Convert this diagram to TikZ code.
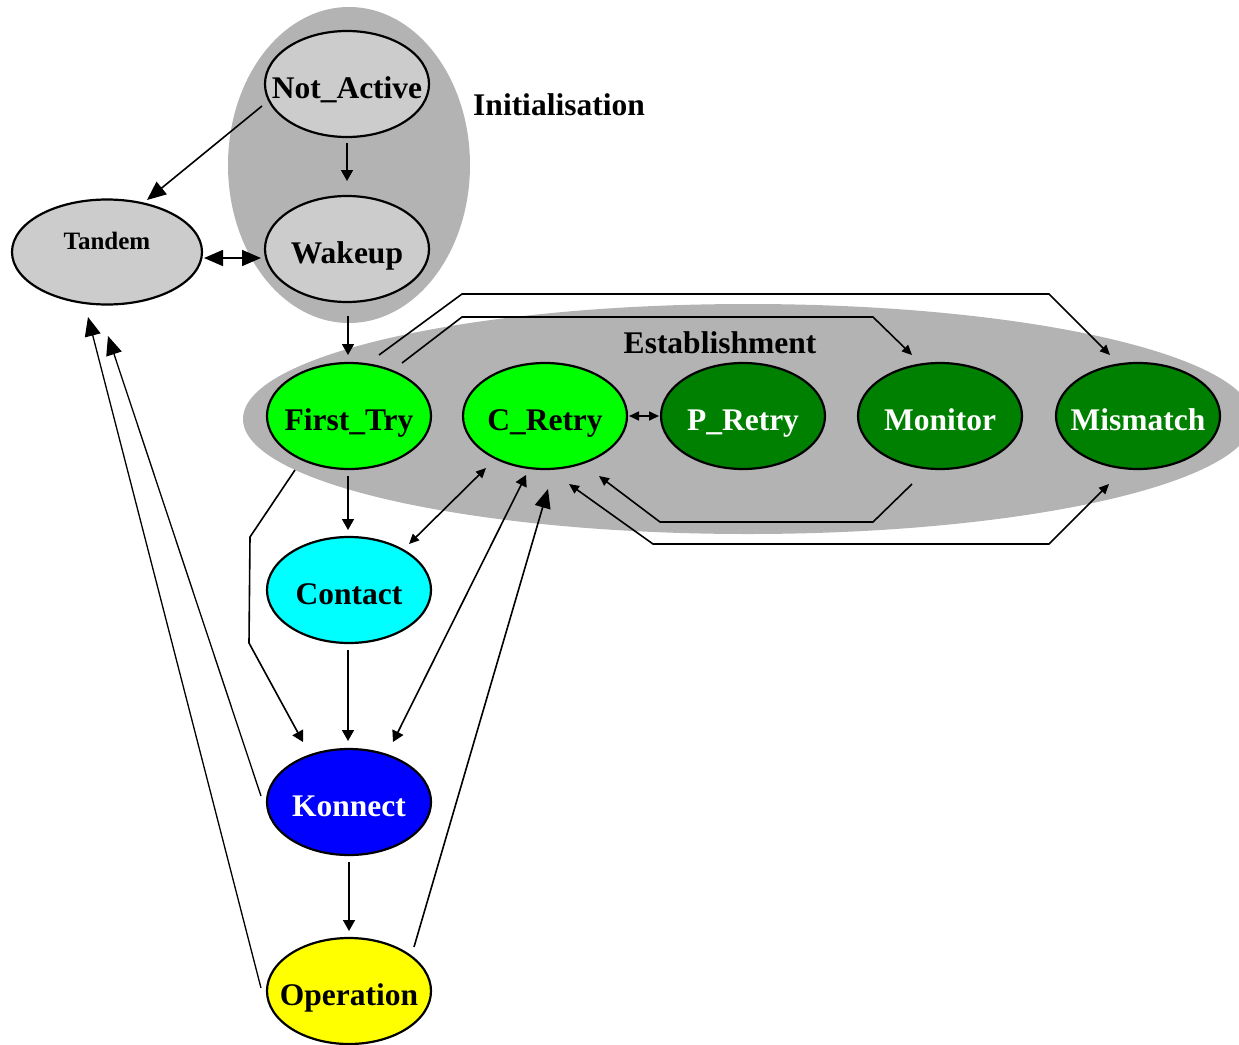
\documentclass[tikz,border=0pt]{standalone}
\usepackage{fontspec}
\setmainfont{Liberation Serif}
\usetikzlibrary{shapes.geometric,arrows.meta,calc}
\definecolor{bggray}{HTML}{B3B3B3}
\definecolor{ltgray}{HTML}{CCCCCC}
\definecolor{lgreen}{HTML}{00FF00}
\definecolor{dgreen}{HTML}{008000}
\definecolor{cyanc}{HTML}{00FFFF}
\definecolor{bluec}{HTML}{0000FF}
\definecolor{yellowc}{HTML}{FFFF00}
\tikzset{
  BigT/.tip={Triangle[length=19pt,width=16pt]},
  MedT/.tip={Triangle[length=11pt,width=12pt]},
  SmT/.tip={Triangle[length=10pt,width=9pt]},
  state/.style={ellipse, draw=black, line width=2.2pt, inner sep=0pt, minimum width=164pt, minimum height=106pt},
  lbl/.style={font=\fontsize{31.5}{36}\selectfont\bfseries, inner sep=0pt},
  slbl/.style={lbl, text height=22pt, text depth=7pt, yshift=-6.5pt},
  wlbl/.style={slbl, text=white},
  conn/.style={line width=1.6pt, line join=miter},
  thinconn/.style={line width=1.3pt},
  group/.style={ellipse, fill=bggray, inner sep=0pt},
}
\begin{document}
\begin{tikzpicture}[x=1pt,y=-1pt]
\useasboundingbox (0,0) rectangle (1239,1044);
\clip (0,0) rectangle (1239,1044);
% group backgrounds
\node[group, minimum width=242pt, minimum height=316pt] (initg) at (349,165) {};
\node[group, minimum width=1010pt, minimum height=230pt] (estg) at (748,419) {};
\node[lbl] (initlbl) at (559,105) {Initialisation};
\node[lbl] (estlbl) at (720,343) {Establishment};
% states
\node[state, fill=ltgray, label={[slbl]center:Not\_Active}] (na) at (347,84) {};
\node[state, fill=ltgray, label={[slbl]center:Wakeup}] (wk) at (347,249) {};
\node[state, fill=ltgray, minimum width=190pt, minimum height=105pt,
      label={[lbl,font=\fontsize{25}{30}\selectfont\bfseries,text height=17pt,text depth=6pt,yshift=8.5pt]center:Tandem}] (tan) at (107,252) {};
\node[state, fill=lgreen, label={[slbl]center:First\_Try}] (ft) at (349,416) {};
\node[state, fill=lgreen, label={[slbl]center:C\_Retry}] (cr) at (545,416) {};
\node[state, fill=dgreen, label={[wlbl]center:P\_Retry}] (pr) at (743,416) {};
\node[state, fill=dgreen, label={[wlbl]center:Monitor}] (mo) at (940,416) {};
\node[state, fill=dgreen, label={[wlbl]center:Mismatch}] (mm) at (1138,416) {};
\node[state, fill=cyanc, label={[slbl]center:Contact}] (co) at (349,590) {};
\node[state, fill=bluec, label={[wlbl]center:Konnect}] (ko) at (349,802) {};
\node[state, fill=yellowc, label={[slbl]center:Operation}] (op) at (349,991) {};
% bend points
\coordinate (b1) at (250,537);
\coordinate (b2) at (249,643);
\coordinate (b3) at (462,317);
\coordinate (b4) at (873,317);
\coordinate (b5) at (462,294);
\coordinate (b6) at (1049,294);
\coordinate (b7) at (873,522);
\coordinate (b8) at (660,522);
\coordinate (b9) at (653,544);
\coordinate (b10) at (1049,544);
% connectors
\draw[conn,-BigT] ($(na)+(-85,22)$) -- ($(tan)+(40,-52)$);
\draw[conn,-MedT] ($(na)+(0,59)$) -- ($(wk)+(0,-68)$);
\draw[conn,BigT-BigT] ($(tan)+(97,6)$) -- ($(wk)+(-86,9)$);
\draw[conn,-MedT] ($(wk)+(1,67)$) -- ($(ft)+(-1,-61)$);
\draw[conn,-MedT] ($(ft)+(-1,60)$) -- ($(co)+(-1,-60)$);
\draw[conn,-MedT] ($(co)+(-1,60)$) -- ($(ko)+(-1,-61)$);
\draw[conn,-MedT] ($(ko)+(0,60)$) -- ($(op)+(0,-60)$);
\draw[conn,-MedT] ($(ft)+(-54,54)$) -- (b1) -- (b2) -- ($(ko)+(-46,-60)$);
\draw[conn,SmT-SmT] ($(cr)+(-59,52)$) -- ($(co)+(60,-46)$);
\draw[conn,MedT-MedT] ($(cr)+(-19,59)$) -- ($(ko)+(44,-60)$);
\draw[conn,-BigT] ($(op)+(65,-44)$) -- ($(cr)+(3,73)$);
\draw[thinconn,-BigT] ($(ko)+(-88,-6)$) -- ($(tan)+(1,84)$);
\draw[thinconn,-BigT] ($(op)+(-88,-3)$) -- ($(tan)+(-19,65)$);
\draw[conn,-SmT] ($(ft)+(53,-53)$) -- (b3) -- (b4) -- ($(mo)+(-28,-61)$);
\draw[conn,-SmT] ($(ft)+(30,-61)$) -- (b5) -- (b6) -- ($(mm)+(-28,-61)$);
\draw[conn,-SmT] ($(mo)+(-28,68)$) -- (b7) -- (b8) -- ($(cr)+(54,60)$);
\draw[conn,SmT-SmT] ($(cr)+(24,68)$) -- (b9) -- (b10) -- ($(mm)+(-29,68)$);
\draw[conn,SmT-SmT] ($(cr)+(84,0)$) -- ($(pr)+(-84,0)$);
\end{tikzpicture}
\end{document}
